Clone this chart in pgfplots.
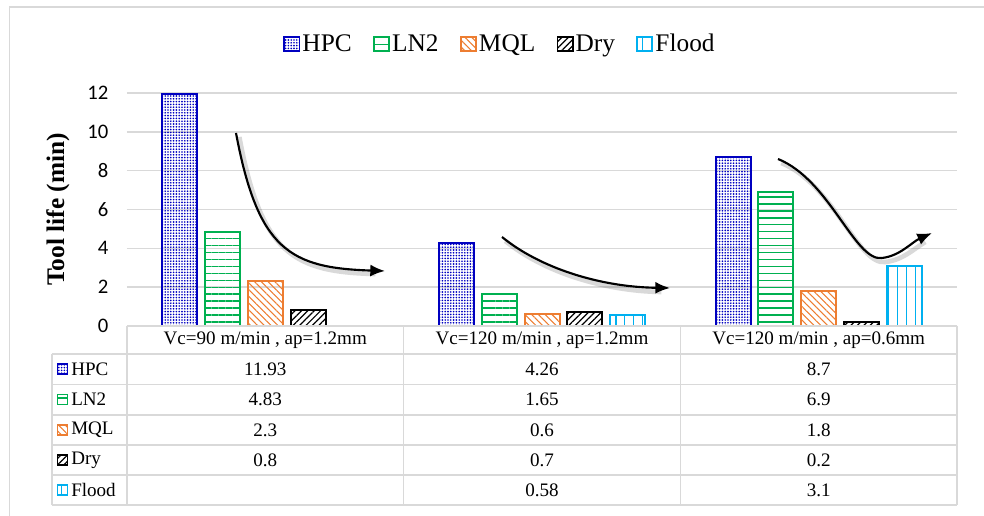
\documentclass[border=0pt]{standalone}
\usepackage{fontspec}
\setmainfont{Liberation Serif}
\newfontfamily\carlito{Carlito}
\usepackage{pgfplots}
\pgfplotsset{compat=1.18}
\usetikzlibrary{patterns.meta,arrows.meta}
\definecolor{hpc}{RGB}{0,0,192}
\definecolor{ln}{RGB}{0,176,80}
\definecolor{mql}{RGB}{237,125,49}
\definecolor{fl}{RGB}{0,176,240}
\definecolor{gridc}{RGB}{217,217,217}
\tikzset{
 hpcs/.style={draw=hpc, pattern={Dots[distance=2.1pt,radius=0.7pt]}, pattern color=hpc},
 lns/.style={draw=ln, pattern={Lines[angle=0,distance=5.2pt,line width=1pt]}, pattern color=ln},
 mqls/.style={draw=mql, pattern={Lines[angle=-45,distance=3.6pt,line width=0.8pt]}, pattern color=mql},
 drys/.style={draw=black, pattern={Lines[angle=45,distance=3.4pt,line width=0.9pt]}, pattern color=black},
 fls/.style={draw=fl, pattern={Lines[angle=90,distance=6.6pt,line width=1pt]}, pattern color=fl},
}
\pgfplotsset{key/.style={legend image code/.code={\draw[##1, line width=1.3pt] (0pt,-5pt) rectangle (11.5pt,5pt);}}}
\newcommand{\tf}{\fontsize{14.3}{16}\selectfont}
\begin{document}
\begin{tikzpicture}
\begin{axis}[
  scale only axis, width=622.5pt, height=174.75pt,
  xmin=-0.5, xmax=2.5, ymin=0, ymax=12,
  ybar=5.8pt, bar width=26.25pt,
  axis line style={draw=none},
  xtick=\empty, ytick={0,2,...,12},
  major tick length=0pt,
  ymajorgrids, grid style={draw=gridc, line width=1.1pt},
  /pgf/number format/assume math mode=true,
  yticklabel style={font=\carlito\fontsize{15.5}{18}\selectfont, xshift=-10.5pt},
  legend style={at={(axis description cs:0.4494,1.2103)}, anchor=center, draw=none, legend columns=-1, font=\fontsize{19}{22}\selectfont, nodes={inner xsep=1.5pt}, /tikz/every even column/.append style={column sep=14.5pt}},
  clip=false,
]
\addplot[hpcs, line width=1.5pt, key] coordinates {(0,11.93) (1,4.26) (2,8.7)};
\addplot[lns, line width=1.5pt, key] coordinates {(0,4.83) (1,1.65) (2,6.9)};
\addplot[mqls, line width=1.5pt, key] coordinates {(0,2.3) (1,0.6) (2,1.8)};
\addplot[drys, line width=1.5pt, key] coordinates {(0,0.8) (1,0.7) (2,0.2)};
\addplot[fls, line width=1.5pt, key] coordinates {(1,0.58) (2,3.1)};
\legend{HPC,LN2,MQL,Dry,Flood}
\end{axis}
\begin{scope}[shift={(-95.25pt,244.5pt)}, x=0.75pt, y=-0.75pt]
 \draw[gridc, line width=1.1pt] (9.5,600) -- (9.5,7) -- (1000,7);
 \node[rotate=90, font=\bfseries\fontsize{19}{22}\selectfont] at (58,209.5) {Tool life (min)};
 \begin{scope}[gridc, line width=1.1pt]
 \draw (127,326) -- (957,326);
 \foreach \y in {354,384.5,415,445,475,505} \draw (52,\y) -- (957,\y);
 \draw (52,354) -- (52,505);
 \foreach \x in {127,403.7,680.3,957} \draw (\x,326) -- (\x,505);
 \end{scope}
 \node[font=\tf] at (265.3,340) {Vc=90 m/min , ap=1.2mm};
 \node[font=\tf] at (542,340) {Vc=120 m/min , ap=1.2mm};
 \node[font=\tf] at (818.7,340) {Vc=120 m/min , ap=0.6mm};
 % row keys
 \draw[hpcs, line width=1pt] (57.5,364) rectangle (67.5,374);
 \draw[lns, line width=1pt] (57.5,394.5) rectangle (67.5,404.5);
 \draw[mqls, line width=1pt] (57.5,425) rectangle (67.5,435);
 \draw[drys, line width=1pt] (57.5,455) rectangle (67.5,465);
 \draw[fls, line width=1pt] (57.5,485) rectangle (67.5,495);
 \node[font=\tf, anchor=west, inner sep=0pt] at (71,369) {HPC};
 \node[font=\tf, anchor=west, inner sep=0pt] at (71,399.5) {LN2};
 \node[font=\tf, anchor=west, inner sep=0pt] at (71,430) {MQL};
 \node[font=\tf, anchor=west, inner sep=0pt] at (71,460) {Dry};
 \node[font=\tf, anchor=west, inner sep=0pt] at (71,490) {Flood};
 % values
 \node[font=\tf] at (265.3,369) {11.93};
 \node[font=\tf] at (542,369) {4.26};
 \node[font=\tf] at (818.7,369) {8.7};
 \node[font=\tf] at (265.3,399.5) {4.83};
 \node[font=\tf] at (542,399.5) {1.65};
 \node[font=\tf] at (818.7,399.5) {6.9};
 \node[font=\tf] at (265.3,430) {2.3};
 \node[font=\tf] at (542,430) {0.6};
 \node[font=\tf] at (818.7,430) {1.8};
 \node[font=\tf] at (265.3,460) {0.8};
 \node[font=\tf] at (542,460) {0.7};
 \node[font=\tf] at (818.7,460) {0.2};
 \node[font=\tf] at (542,490) {0.58};
 \node[font=\tf] at (818.7,490) {3.1};
 % arrow shadows
 \begin{scope}[shift={(2.5pt,-3pt)}, black, opacity=0.15, line width=3.5pt]
  \draw (236,133) .. controls (258,250) and (290,268) .. (372,270);
  \draw (502,237) .. controls (540,268) and (600,287) .. (658,288);
  \draw (778,159) .. controls (830,180) and (855,262) .. (882,258) .. controls (900,256) and (910,245) .. (922,238);
 \end{scope}
 % arrows
 \begin{scope}[black, line width=1.6pt, -{Latex[length=11pt,width=9pt]}]
  \draw (236,133) .. controls (258,250) and (290,268) .. (385,271);
  \draw (502,237) .. controls (540,268) and (600,287) .. (670,288);
  \draw (778,159) .. controls (830,180) and (855,262) .. (882,258) .. controls (900,256) and (912,242) .. (932,233);
 \end{scope}
 \pgfresetboundingbox
 \path[use as bounding box] (0,0) rectangle (984,516);
\end{scope}
\end{tikzpicture}
\end{document}
